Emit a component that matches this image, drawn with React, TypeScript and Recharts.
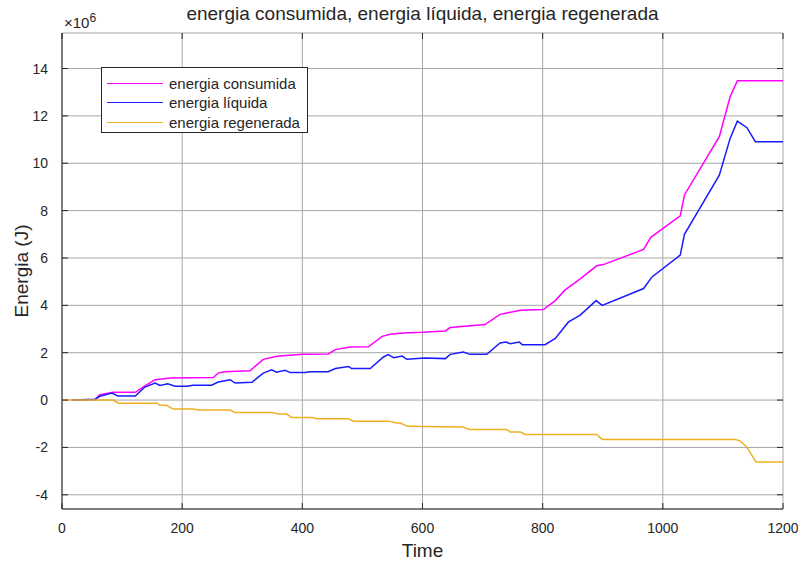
import React from "react";
import { LineChart, Line, XAxis, YAxis, CartesianGrid } from "recharts";

const title = "energia consumida, energia líquida, energia regenerada";
const xLabel = "Time";
const yLabel = "Energia (J)";
const seriesNames = ["energia consumida", "energia líquida", "energia regenerada"];
const seriesColors = ["#ff00ff", "#1a1aff", "#edb120"];

const xTicks = [0, 200, 400, 600, 800, 1000, 1200];
const yTicks = [-4e6, -2e6, 0, 2e6, 4e6, 6e6, 8e6, 10e6, 12e6, 14e6];

const consumidaT = [17, 55, 63, 85, 122, 138, 155, 180, 252, 260, 270, 313, 335, 358, 400, 443, 455, 480, 510, 533, 546, 568, 599, 638, 646, 704, 729, 763, 801, 821, 837, 863, 890, 901, 968, 980, 1029, 1036, 1094, 1112, 1124, 1200];
const consumidaV = [0, 0.02, 0.23, 0.33, 0.33, 0.6, 0.86, 0.93, 0.95, 1.14, 1.2, 1.24, 1.72, 1.85, 1.93, 1.95, 2.13, 2.24, 2.25, 2.69, 2.78, 2.83, 2.86, 2.92, 3.06, 3.19, 3.62, 3.79, 3.82, 4.2, 4.64, 5.13, 5.67, 5.72, 6.36, 6.87, 7.78, 8.66, 11.12, 12.81, 13.48, 13.48];

const liquidaT = [17, 55, 63, 83, 93, 122, 138, 155, 163, 176, 188, 208, 218, 249, 260, 280, 288, 316, 335, 349, 357, 371, 380, 405, 413, 443, 455, 477, 482, 513, 535, 543, 552, 566, 574, 604, 638, 646, 668, 679, 707, 729, 739, 746, 761, 766, 804, 821, 843, 862, 889, 899, 968, 982, 1029, 1036, 1094, 1112, 1124, 1140, 1154, 1200];
const liquidaV = [0, 0.03, 0.16, 0.3, 0.17, 0.17, 0.55, 0.72, 0.62, 0.69, 0.58, 0.58, 0.63, 0.63, 0.76, 0.86, 0.72, 0.75, 1.14, 1.28, 1.18, 1.26, 1.16, 1.16, 1.2, 1.2, 1.33, 1.42, 1.33, 1.33, 1.82, 1.92, 1.79, 1.86, 1.72, 1.78, 1.75, 1.93, 2.03, 1.93, 1.93, 2.41, 2.45, 2.38, 2.45, 2.34, 2.34, 2.6, 3.3, 3.58, 4.2, 4.0, 4.71, 5.2, 6.12, 7.0, 9.5, 11.05, 11.78, 11.5, 10.91, 10.91];

const regeneradaT = [0, 85, 94, 158, 163, 174, 185, 219, 227, 280, 288, 349, 360, 374, 382, 416, 425, 477, 485, 543, 557, 563, 574, 600, 668, 677, 740, 746, 763, 771, 890, 899, 1121, 1129, 1140, 1155, 1200];
const regeneradaV = [0, 0, -0.13, -0.13, -0.22, -0.22, -0.38, -0.38, -0.42, -0.42, -0.52, -0.52, -0.59, -0.59, -0.74, -0.74, -0.79, -0.79, -0.89, -0.89, -0.97, -0.97, -1.1, -1.12, -1.14, -1.24, -1.24, -1.35, -1.35, -1.45, -1.45, -1.66, -1.66, -1.73, -1.99, -2.62, -2.62];

const build = (ts: number[], vs: number[]) => ts.map((t, i) => ({ t, v: vs[i] * 1e6 }));
const seriesData = [
  build(consumidaT, consumidaV),
  build(liquidaT, liquidaV),
  build(regeneradaT, regeneradaV),
];

const FONT = "'Liberation Sans', Arial, sans-serif";
const TXT = "#262626";

const W = 798;
const H = 561;
const PLOT_L = 62;
const PLOT_T = 33;
const PLOT_R = 783;
const PLOT_B = 509;
const YAXIS_W = 40;
const XAXIS_H = 30;
const CX = PLOT_L + (PLOT_R - PLOT_L) / 2;

const XTick = (props: any) => {
  const { x, payload } = props;
  return (
    <g>
      <line x1={x} x2={x} y1={PLOT_B} y2={PLOT_B - 6} stroke="#262626" strokeWidth={1} />
      <line x1={x} x2={x} y1={PLOT_T} y2={PLOT_T + 6} stroke="#262626" strokeWidth={1} />
      <text x={x} y={PLOT_B + 24} textAnchor="middle" fontSize={14} fontFamily={FONT} fill={TXT}>
        {String(payload.value)}
      </text>
    </g>
  );
};

const YTick = (props: any) => {
  const { x, y, payload } = props;
  return (
    <g>
      <line x1={PLOT_L} x2={PLOT_L + 6} y1={y} y2={y} stroke="#262626" strokeWidth={1} />
      <line x1={PLOT_R} x2={PLOT_R - 6} y1={y} y2={y} stroke="#262626" strokeWidth={1} />
      <text x={x} y={y + 5} textAnchor="end" fontSize={14} fontFamily={FONT} fill={TXT}>
        {String(Math.round(payload.value / 1e6))}
      </text>
    </g>
  );
};

export default function App() {
  return (
    <div style={{ position: "relative", width: W, height: H, background: "#fff", fontFamily: FONT, overflow: "hidden" }}>
      <style>{"html,body{margin:0;padding:0;overflow:hidden;}"}</style>
      <LineChart
        width={W}
        height={H}
        margin={{ top: PLOT_T, left: PLOT_L - YAXIS_W, right: W - PLOT_R, bottom: H - PLOT_B - XAXIS_H }}
      >
        <CartesianGrid xAxisId="main" yAxisId="main" stroke="#a6a6a6" strokeWidth={1} />
        <XAxis
          xAxisId="main"
          dataKey="t"
          type="number"
          domain={[0, 1200]}
          ticks={xTicks}
          interval={0}
          allowDataOverflow
          height={XAXIS_H}
          axisLine={{ stroke: "#262626" }}
          tickLine={false}
          tick={<XTick />}
          tickMargin={8}
        />
        <XAxis xAxisId="top" orientation="top" type="number" domain={[0, 1200]} height={0} tick={false} tickLine={false} axisLine={{ stroke: "#262626" }} />
        <YAxis
          yAxisId="main"
          type="number"
          domain={[-4.6e6, 15.5e6]}
          ticks={yTicks}
          interval={0}
          allowDataOverflow
          width={YAXIS_W}
          axisLine={{ stroke: "#262626" }}
          tickLine={false}
          tick={<YTick />}
          tickMargin={8}
        />
        <YAxis yAxisId="right" orientation="right" type="number" domain={[0, 1]} width={0} tick={false} tickLine={false} axisLine={{ stroke: "#262626" }} />
        {seriesData.map((d, i) => (
          <Line
            key={seriesNames[i]}
            xAxisId="main"
            yAxisId="main"
            data={d}
            dataKey="v"
            type="linear"
            stroke={seriesColors[i]}
            strokeWidth={1.5}
            dot={false}
            isAnimationActive={false}
          />
        ))}
      </LineChart>

      <div style={{ position: "absolute", left: CX - 300, width: 600, top: 4, lineHeight: "20px", textAlign: "center", fontSize: 19, color: TXT, whiteSpace: "nowrap" }}>
        {title}
      </div>
      <div style={{ position: "absolute", left: 64, top: 9, lineHeight: "18px", fontSize: 15, color: TXT, whiteSpace: "nowrap" }}>
        ×10<sup style={{ fontSize: 12 }}>6</sup>
      </div>
      <div style={{ position: "absolute", left: CX - 100, width: 200, top: 541, lineHeight: "19px", textAlign: "center", fontSize: 19, color: TXT }}>
        {xLabel}
      </div>
      <div style={{ position: "absolute", left: 22, top: (PLOT_T + PLOT_B) / 2, transform: "translate(-50%, -50%) rotate(-90deg)", lineHeight: "20px", fontSize: 19, color: TXT, whiteSpace: "nowrap" }}>
        {yLabel}
      </div>

      <div style={{ position: "absolute", left: 101, top: 67, width: 207, height: 66, boxSizing: "border-box", border: "1px solid #262626", background: "#fff" }}>
        {seriesNames.map((n, i) => (
          <div key={n} style={{ position: "absolute", left: 0, top: 6 + i * 19.5, height: 18, display: "flex", alignItems: "center" }}>
            <div style={{ width: 56, height: 0, borderTop: `1.5px solid ${seriesColors[i]}`, marginLeft: 5, marginRight: 6 }} />
            <span style={{ fontSize: 15, lineHeight: "17px", color: TXT, whiteSpace: "nowrap" }}>{n}</span>
          </div>
        ))}
      </div>
    </div>
  );
}
